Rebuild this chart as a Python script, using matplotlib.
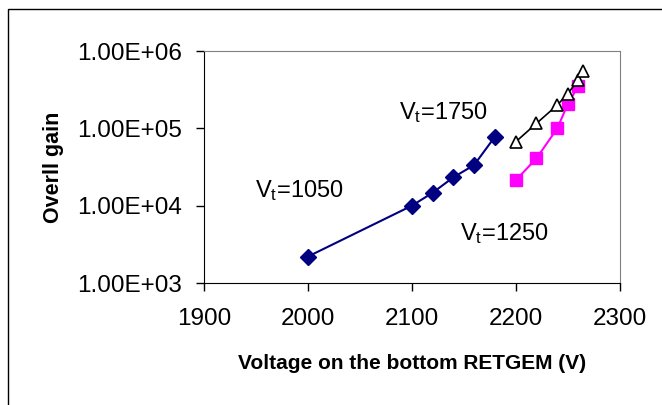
import matplotlib
matplotlib.use("Agg")
import matplotlib.pyplot as plt
from matplotlib.patches import Rectangle

plt.rcParams['font.family'] = ['Liberation Sans', 'DejaVu Sans']
plt.rcParams['mathtext.fontset'] = 'custom'
plt.rcParams['mathtext.rm'] = 'Liberation Sans'
plt.rcParams['mathtext.it'] = 'Liberation Sans'

# data
v_1050 = [2000, 2100, 2120, 2140, 2160, 2180]
gain_1050 = [2200, 10000, 14700, 23300, 33600, 78000]

v_1250 = [2200, 2220, 2240, 2250, 2260]
gain_1250 = [21300, 41000, 100000, 204000, 350000]

v_1750 = [2200, 2220, 2240, 2250, 2260, 2265]
gain_1750 = [67000, 116000, 200000, 280000, 420000, 550000]

x_ticks = [1900, 2000, 2100, 2200, 2300]
y_ticks = [1e3, 1e4, 1e5, 1e6]
y_labels = ['1.00E+03', '1.00E+04', '1.00E+05', '1.00E+06']

fig = plt.figure(figsize=(6.62, 4.05), dpi=100)
ax = fig.add_axes([0.308, 0.301, 0.628, 0.573])

ax.plot(v_1050, gain_1050, color='#000080', lw=1.5, marker='D', ms=8,
        mfc='#000080', mec='#000080')
ax.plot(v_1250, gain_1250, color='#FF00FF', lw=1.5, marker='s', ms=8,
        mfc='#FF00FF', mec='#FF00FF')
ax.plot(v_1750, gain_1750, color='black', lw=1.2, marker='^', ms=9,
        mfc='white', mec='black', mew=1.2)

ax.set_yscale('log')
ax.set_xlim(1900, 2300)
ax.set_ylim(1e3, 1e6)
ax.set_xticks(x_ticks)
ax.set_xticklabels([str(t) for t in x_ticks])
ax.set_yticks(y_ticks)
ax.set_yticklabels(y_labels)
ax.minorticks_off()
ax.tick_params(axis='both', direction='out', length=6, width=1,
               labelsize=17.5)
ax.tick_params(axis='y', pad=9.5)
ax.tick_params(axis='x', pad=12)

for side in ['top', 'right']:
    ax.spines[side].set_color('#808080')
for side in ['left', 'bottom']:
    ax.spines[side].set_color('black')

ax.set_xlabel('Voltage on the bottom RETGEM (V)', fontsize=15,
              fontweight='bold', labelpad=17)
ax.set_ylabel('Overll gain', fontsize=15.5, fontweight='bold', labelpad=10)

ax.text(1949, 1.58e4, r'V$_\mathregular{t}$=1050', fontsize=17, va='center')
ax.text(2088, 1.58e5, r'V$_\mathregular{t}$=1750', fontsize=17, va='center')
ax.text(2146, 4430, r'V$_\mathregular{t}$=1250', fontsize=17, va='center')

fig.patches.append(Rectangle((8 / 662, -0.1), 1.2, 1.1 - 9 / 405,
                             transform=fig.transFigure, fill=False,
                             edgecolor='black', lw=1))

fig.savefig('out.png', dpi=100)
